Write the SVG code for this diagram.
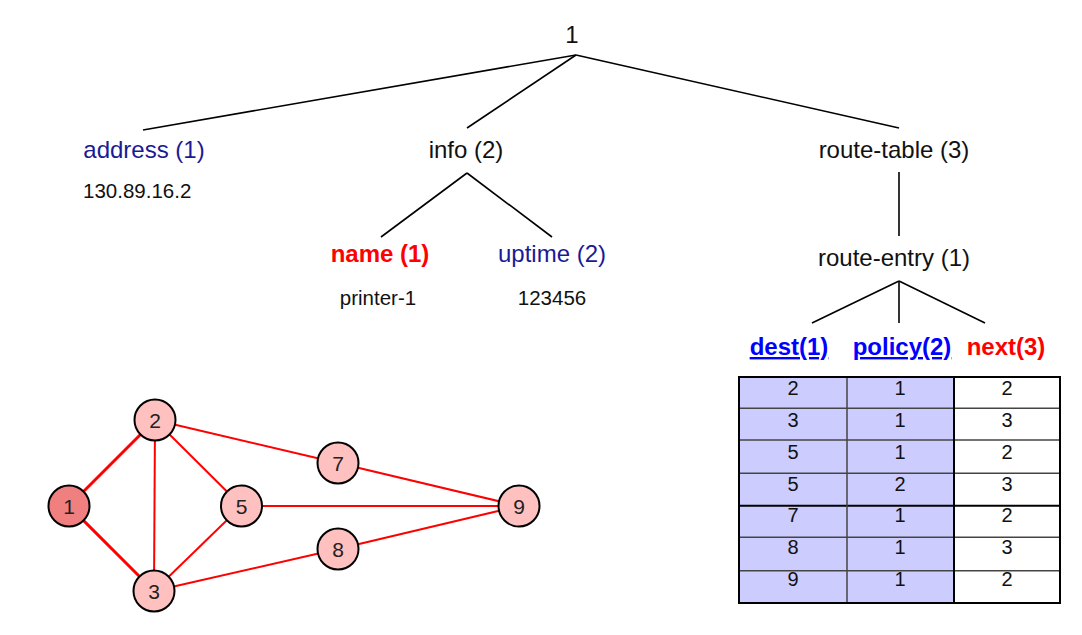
<svg xmlns="http://www.w3.org/2000/svg" width="1082" height="635" viewBox="0 0 1082 635">
<style>
text{font-family:"Liberation Sans",Arial,sans-serif;}
.t{font-size:24px;fill:#111;text-anchor:middle;}
.navy{font-size:24px;fill:#1a1a96;text-anchor:middle;}
.redb{font-size:24px;fill:#ff0000;font-weight:bold;text-anchor:middle;}
.blueb{font-size:24px;fill:#0000ff;font-weight:bold;text-anchor:middle;text-decoration:underline;}
.v{font-size:20.5px;fill:#111;text-anchor:middle;}
.tl{stroke:#000;stroke-width:1.6;fill:none;}
.e{stroke:#ff0000;stroke-width:2;}
.e3{stroke:#ff0000;stroke-width:3;}
.n{fill:#ffc0c0;stroke:#000;stroke-width:2;}
.n1{fill:#f08080;stroke:#000;stroke-width:2;}
.nl{font-size:21px;fill:#222;text-anchor:middle;}
.c{font-size:20px;fill:#111;text-anchor:middle;}
.blue{fill:#ccccff;}
.g{stroke:#444;stroke-width:1.5;}
.k{stroke:#000;stroke-width:2;}
</style>
<rect width="1082" height="635" fill="#fff"/>
<g id="connectors">
<line class="tl" x1="576" y1="55" x2="143" y2="130"/>
<line class="tl" x1="576" y1="55" x2="467" y2="128"/>
<line class="tl" x1="576" y1="55" x2="899" y2="128"/>
<line class="tl" x1="467" y1="173" x2="381" y2="237"/>
<line class="tl" x1="467" y1="173" x2="552" y2="237"/>
<line class="tl" x1="899" y1="172" x2="899" y2="236"/>
<line class="tl" x1="899" y1="281" x2="812" y2="323"/>
<line class="tl" x1="899" y1="281" x2="899" y2="323"/>
<line class="tl" x1="899" y1="281" x2="985" y2="323"/>
<line class="e3" x1="69" y1="506" x2="155" y2="420"/>
<line class="e3" x1="69" y1="506" x2="154" y2="591"/>
<line class="e" x1="155" y1="420" x2="154" y2="591"/>
<line class="e" x1="155" y1="420" x2="241.5" y2="506"/>
<line class="e" x1="155" y1="420" x2="338" y2="463"/>
<line class="e" x1="154" y1="591" x2="241.5" y2="506"/>
<line class="e" x1="154" y1="591" x2="338" y2="549"/>
<line class="e" x1="241.5" y1="506" x2="519" y2="506"/>
<line class="e" x1="338" y1="463" x2="519" y2="506"/>
<line class="e" x1="338" y1="549" x2="519" y2="506"/>
</g>
<g id="root"><text class="t" x="572" y="43">1</text></g>
<g id="address"><text class="navy" x="144" y="158">address (1)</text><text class="v" x="83" y="198" style="text-anchor:start">130.89.16.2</text></g>
<g id="info"><text class="t" x="466" y="158">info (2)</text></g>
<g id="name"><text class="redb" x="380" y="262">name (1)</text><text class="v" x="378" y="305">printer-1</text></g>
<g id="uptime"><text class="navy" x="552" y="262">uptime (2)</text><text class="v" x="552" y="305">123456</text></g>
<g id="route-table"><text class="t" x="894" y="158">route-table (3)</text></g>
<g id="route-entry"><text class="t" x="894" y="266">route-entry (1)</text></g>
<g id="dest"><text class="blueb" x="789" y="355">dest(1)</text></g>
<g id="policy"><text class="blueb" x="902" y="355">policy(2)</text></g>
<g id="next"><text class="redb" x="1006" y="355">next(3)</text></g>
<g id="table">
<rect class="blue" x="739" y="377" width="215" height="226"/>
<rect x="954" y="377" width="106" height="226" fill="#fff"/>
<line class="g" x1="739" y1="408.3" x2="1060" y2="408.3"/>
<line class="g" x1="739" y1="440" x2="1060" y2="440"/>
<line class="g" x1="739" y1="473.3" x2="1060" y2="473.3"/>
<line class="k" x1="739" y1="505.7" x2="1060" y2="505.7"/>
<line class="g" x1="739" y1="537.3" x2="1060" y2="537.3"/>
<line class="g" x1="739" y1="570.7" x2="1060" y2="570.7"/>
<line class="g" x1="847" y1="377" x2="847" y2="603"/>
<line class="k" x1="954" y1="377" x2="954" y2="603"/>
<rect x="739" y="377" width="321" height="226" fill="none" stroke="#000" stroke-width="2"/>
<g class="c">
<text x="793" y="395">2</text><text x="900" y="395">1</text><text x="1007" y="395">2</text>
<text x="793" y="427">3</text><text x="900" y="427">1</text><text x="1007" y="427">3</text>
<text x="793" y="459">5</text><text x="900" y="459">1</text><text x="1007" y="459">2</text>
<text x="793" y="491">5</text><text x="900" y="491">2</text><text x="1007" y="491">3</text>
<text x="793" y="522">7</text><text x="900" y="522">1</text><text x="1007" y="522">2</text>
<text x="793" y="554">8</text><text x="900" y="554">1</text><text x="1007" y="554">3</text>
<text x="793" y="586">9</text><text x="900" y="586">1</text><text x="1007" y="586">2</text>
</g>
</g>
<g id="n1"><circle class="n1" cx="69" cy="506" r="20.5"/><text class="nl" x="69" y="513.5">1</text></g>
<g id="n2"><circle class="n" cx="155" cy="420" r="20.5"/><text class="nl" x="155" y="427.5">2</text></g>
<g id="n3"><circle class="n" cx="154" cy="591" r="20.5"/><text class="nl" x="154" y="598.5">3</text></g>
<g id="n5"><circle class="n" cx="241.5" cy="506" r="20.5"/><text class="nl" x="241.5" y="513.5">5</text></g>
<g id="n7"><circle class="n" cx="338" cy="463" r="20.5"/><text class="nl" x="338" y="470.5">7</text></g>
<g id="n8"><circle class="n" cx="338" cy="549" r="20.5"/><text class="nl" x="338" y="556.5">8</text></g>
<g id="n9"><circle class="n" cx="519" cy="506" r="20.5"/><text class="nl" x="519" y="513.5">9</text></g>
</svg>
